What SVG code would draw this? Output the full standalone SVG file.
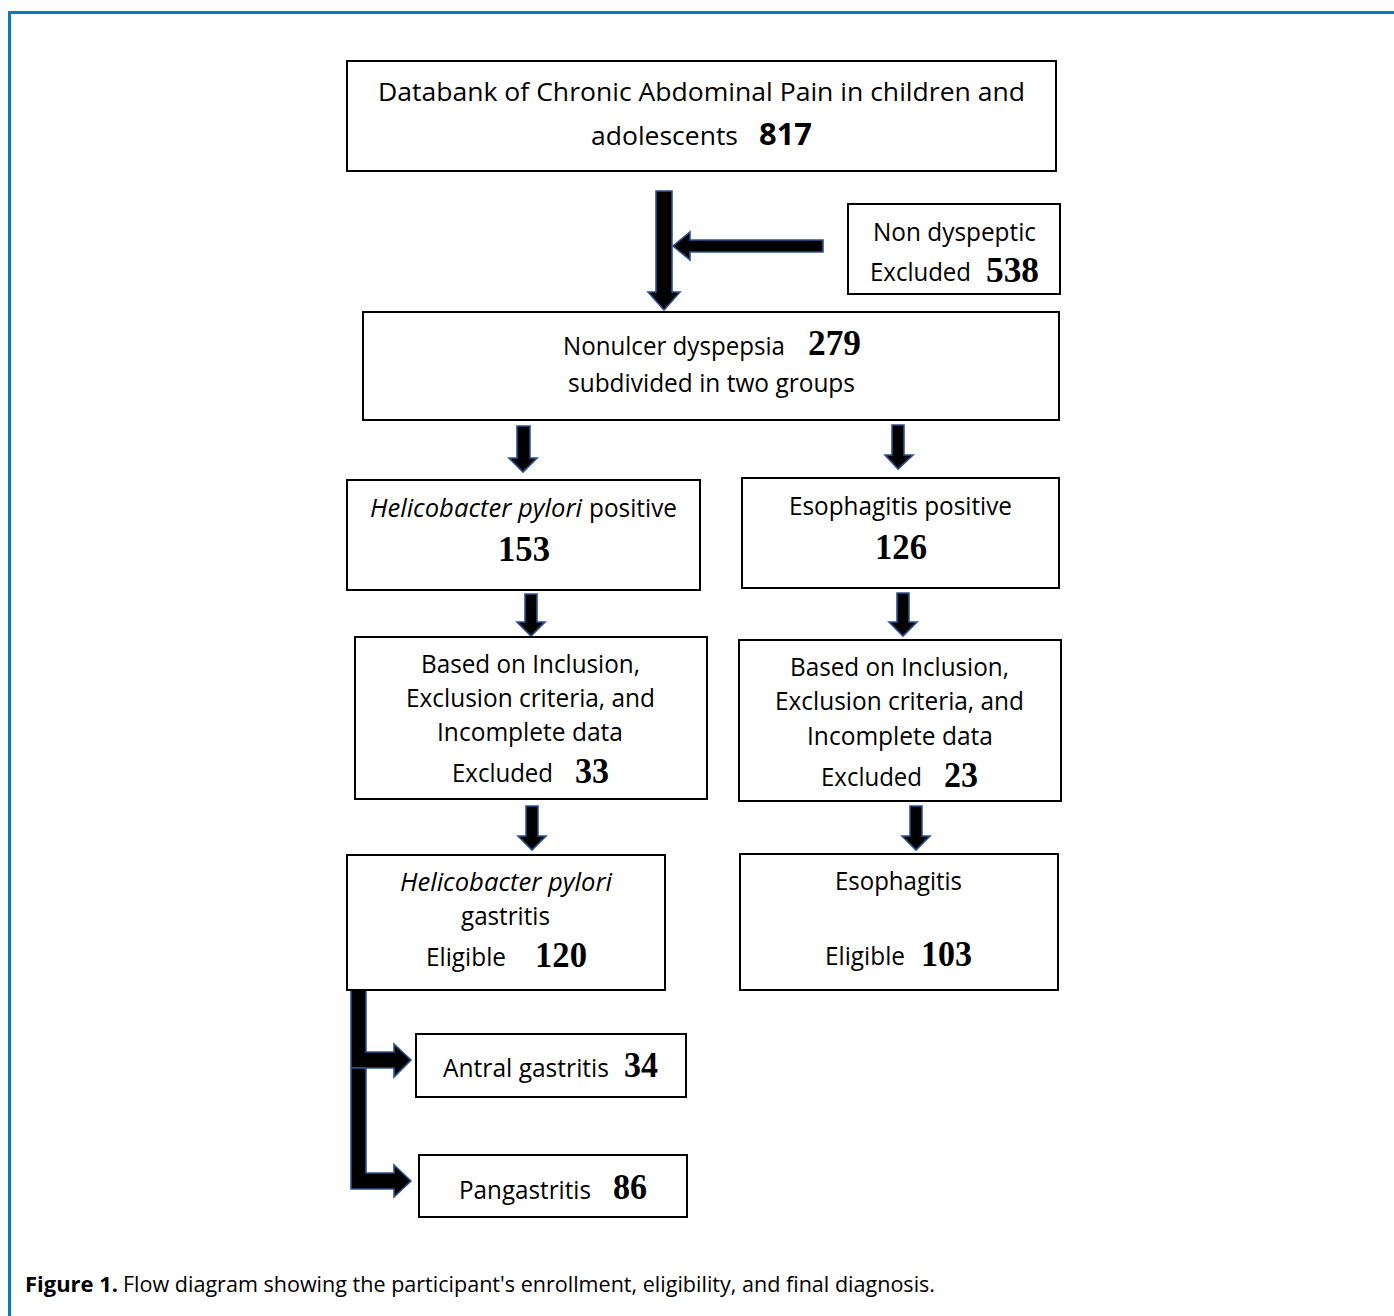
<svg xmlns="http://www.w3.org/2000/svg" width="1394" height="1316" viewBox="0 0 1394 1316">
<style>
.box{fill:#fff;stroke:#000;stroke-width:2}
.t{font-family:"Open Sans","Noto Sans",sans-serif;font-size:25px;fill:#000}
.i{font-style:italic}
.n{font-family:"Liberation Serif","Times New Roman",serif;font-weight:bold;font-size:35px;fill:#000}
.nb{font-family:"Open Sans","Noto Sans",sans-serif;font-weight:bold;font-size:30px;fill:#000}
.arr{fill:#000;stroke:#2f528f;stroke-width:1.6;stroke-linejoin:miter}
.cap{font-family:"Open Sans","Noto Sans",sans-serif;font-size:22px;fill:#000}
</style>
<rect width="1394" height="1316" fill="#fff"/>
<path d="M9.5 1316 V12.5 H1394" fill="none" stroke="#0a7bc2" stroke-width="3"/>

<g id="connectors">
  <polygon class="arr" points="656,191 672,191 672,292 680,292 664,310 648,292 656,292"/>
  <polygon class="arr" points="823,240 823,252 690,252 690,260 673,246 690,232 690,240"/>
  <polygon class="arr" points="517,426 530,426 530,458 537,458 523,472 509,458 517,458"/>
  <polygon class="arr" points="892,425 904,425 904,455 913,455 898,469 885,455 892,455"/>
  <polygon class="arr" points="525,594 537,594 537,622 545,622 531,636 517,622 525,622"/>
  <polygon class="arr" points="897,593 909,593 909,622 917,622 903,636 889,622 897,622"/>
  <polygon class="arr" points="526,806 538,806 538,836 546,836 532,850 518,836 526,836"/>
  <polygon class="arr" points="910,806 922,806 922,836 930,836 916,850 902,836 910,836"/>
  <polygon class="arr" points="351,990 366,990 366,1052 394,1052 394,1044 411,1060 394,1077 394,1068 351,1068"/>
  <polygon class="arr" points="351,1068 366,1068 366,1173 394,1173 394,1165 411,1181 394,1197 394,1189 351,1189"/>
</g>

<g id="n1">
  <rect class="box" x="347" y="61" width="709" height="110"/>
  <text class="t" x="378" y="101" textLength="647" lengthAdjust="spacingAndGlyphs">Databank of Chronic Abdominal Pain in children and</text>
  <text class="t" x="591" y="145" textLength="147" lengthAdjust="spacingAndGlyphs">adolescents</text>
  <text class="nb" x="759" y="145" textLength="53" lengthAdjust="spacingAndGlyphs">817</text>
</g>

<g id="n2">
  <rect class="box" x="848" y="204" width="212" height="90"/>
  <text class="t" x="873" y="241" textLength="163" lengthAdjust="spacingAndGlyphs">Non dyspeptic</text>
  <text class="t" x="870" y="281" textLength="101" lengthAdjust="spacingAndGlyphs">Excluded</text>
  <text class="n" x="986" y="282" textLength="53" lengthAdjust="spacingAndGlyphs">538</text>
</g>

<g id="n3">
  <rect class="box" x="363" y="312" width="696" height="108"/>
  <text class="t" x="563" y="355" textLength="222" lengthAdjust="spacingAndGlyphs">Nonulcer dyspepsia</text>
  <text class="n" x="808" y="355" textLength="53" lengthAdjust="spacingAndGlyphs">279</text>
  <text class="t" x="568" y="392" textLength="287" lengthAdjust="spacingAndGlyphs">subdivided in two groups</text>
</g>

<g id="n4">
  <rect class="box" x="347" y="480" width="353" height="110"/>
  <text class="t i" x="370" y="517" textLength="212" lengthAdjust="spacingAndGlyphs">Helicobacter pylori</text>
  <text class="t" x="589" y="517" textLength="88" lengthAdjust="spacingAndGlyphs">positive</text>
  <text class="n" x="498" y="561" textLength="52" lengthAdjust="spacingAndGlyphs">153</text>
</g>

<g id="n5">
  <rect class="box" x="742" y="478" width="317" height="110"/>
  <text class="t" x="789" y="515" textLength="223" lengthAdjust="spacingAndGlyphs">Esophagitis positive</text>
  <text class="n" x="875" y="559" textLength="52" lengthAdjust="spacingAndGlyphs">126</text>
</g>

<g id="n6">
  <rect class="box" x="355" y="637" width="352" height="162"/>
  <text class="t" x="421" y="673" textLength="219" lengthAdjust="spacingAndGlyphs">Based on Inclusion,</text>
  <text class="t" x="406" y="707" textLength="249" lengthAdjust="spacingAndGlyphs">Exclusion criteria, and</text>
  <text class="t" x="437" y="741" textLength="186" lengthAdjust="spacingAndGlyphs">Incomplete data</text>
  <text class="t" x="452" y="782" textLength="101" lengthAdjust="spacingAndGlyphs">Excluded</text>
  <text class="n" x="575" y="783" textLength="34" lengthAdjust="spacingAndGlyphs">33</text>
</g>

<g id="n7">
  <rect class="box" x="739" y="640" width="322" height="161"/>
  <text class="t" x="790" y="676" textLength="219" lengthAdjust="spacingAndGlyphs">Based on Inclusion,</text>
  <text class="t" x="775" y="710" textLength="249" lengthAdjust="spacingAndGlyphs">Exclusion criteria, and</text>
  <text class="t" x="807" y="745" textLength="186" lengthAdjust="spacingAndGlyphs">Incomplete data</text>
  <text class="t" x="821" y="786" textLength="101" lengthAdjust="spacingAndGlyphs">Excluded</text>
  <text class="n" x="944" y="787" textLength="34" lengthAdjust="spacingAndGlyphs">23</text>
</g>

<g id="n8">
  <rect class="box" x="347" y="855" width="318" height="135"/>
  <text class="t i" x="400" y="891" textLength="212" lengthAdjust="spacingAndGlyphs">Helicobacter pylori</text>
  <text class="t" x="461" y="925" textLength="89" lengthAdjust="spacingAndGlyphs">gastritis</text>
  <text class="t" x="426" y="966" textLength="80" lengthAdjust="spacingAndGlyphs">Eligible</text>
  <text class="n" x="535" y="967" textLength="52" lengthAdjust="spacingAndGlyphs">120</text>
</g>

<g id="n9">
  <rect class="box" x="740" y="854" width="318" height="136"/>
  <text class="t" x="835" y="890" textLength="127" lengthAdjust="spacingAndGlyphs">Esophagitis</text>
  <text class="t" x="825" y="965" textLength="80" lengthAdjust="spacingAndGlyphs">Eligible</text>
  <text class="n" x="921" y="966" textLength="51" lengthAdjust="spacingAndGlyphs">103</text>
</g>

<g id="n10">
  <rect class="box" x="416" y="1034" width="270" height="63"/>
  <text class="t" x="443" y="1077" textLength="166" lengthAdjust="spacingAndGlyphs">Antral gastritis</text>
  <text class="n" x="624" y="1077" textLength="34" lengthAdjust="spacingAndGlyphs">34</text>
</g>

<g id="n11">
  <rect class="box" x="419" y="1155" width="268" height="62"/>
  <text class="t" x="459" y="1199" textLength="132" lengthAdjust="spacingAndGlyphs">Pangastritis</text>
  <text class="n" x="613" y="1199" textLength="34" lengthAdjust="spacingAndGlyphs">86</text>
</g>

<text class="cap" x="25" y="1292" font-weight="bold" textLength="93" lengthAdjust="spacingAndGlyphs">Figure 1.</text>
<text class="cap" x="123" y="1292" textLength="812" lengthAdjust="spacingAndGlyphs">Flow diagram showing the participant's enrollment, eligibility, and final diagnosis.</text>
</svg>
